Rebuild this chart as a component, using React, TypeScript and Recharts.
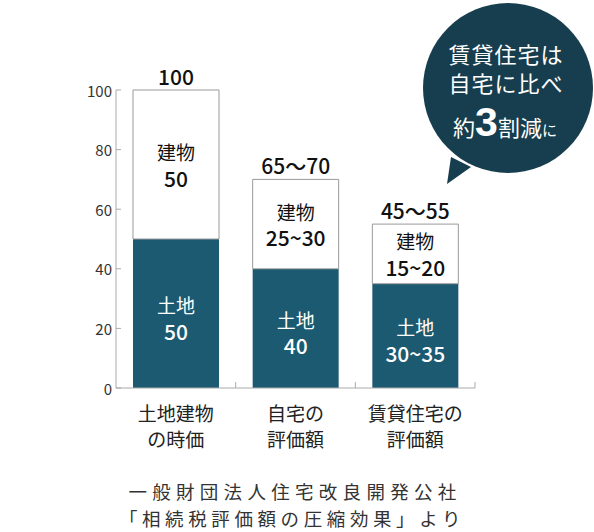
import React from 'react';
import { BarChart, Bar, XAxis, YAxis, LabelList } from 'recharts';

const categories = ['土地建物の時価', '自宅の評価額', '賃貸住宅の評価額'];
const categoryLine1 = ['土地建物', '自宅の', '賃貸住宅の'];
const categoryLine2 = ['の時価', '評価額', '評価額'];
const landValues = [50, 40, 35];
const buildingValues = [50, 30, 20];
const landLabels = ['50', '40', '30~35'];
const buildingLabels = ['50', '25~30', '15~20'];
const totalLabels = ['100', '65～70', '45～55'];
const yTicks = [0, 20, 40, 60, 80, 100];
const landName = '土地';
const buildingName = '建物';
const calloutLines = ['賃貸住宅は', '自宅に比べ'];
const sourceLines = ['一般財団法人住宅改良開発公社', '「相続税評価額の圧縮効果」より'];

const data = categories.map((c, i) => ({
  name: c,
  land: landValues[i],
  building: buildingValues[i],
}));

const FONT = '"Noto Sans CJK JP", "Noto Sans", sans-serif';
const TEAL = '#1b5a70';
const BUBBLE = '#173e4e';
const AXIS = '#aaaaaa';

const XTick = (props: any) => {
  const { x, y, payload, index, width, visibleTicksCount } = props;
  const half =
    payload && typeof payload.offset === 'number' && payload.offset > 0
      ? payload.offset
      : width / (visibleTicksCount || 3) / 2;
  const i = payload?.index ?? index;
  return (
    <g>
      <line x1={x + half} x2={x + half} y1={y} y2={y - 6} stroke={AXIS} strokeWidth={1} />
      <text x={x} y={y + 24} textAnchor="middle" dominantBaseline="central" fontFamily={FONT} fontSize={19} fill="#222">
        {categoryLine1[i]}
      </text>
      <text x={x} y={y + 50} textAnchor="middle" dominantBaseline="central" fontFamily={FONT} fontSize={19} fill="#222">
        {categoryLine2[i]}
      </text>
    </g>
  );
};

const YTick = (props: any) => {
  const { x, y, payload } = props;
  return (
    <g>
      <line x1={x} x2={x + 5} y1={y} y2={y} stroke={AXIS} strokeWidth={1} />
      <text x={x - 4} y={y} textAnchor="end" dominantBaseline="central" fontFamily={FONT} fontSize={15} fill="#333">
        {payload.value}
      </text>
    </g>
  );
};

const LandLabel = (props: any) => {
  const { x, y, width, height, index } = props;
  const cx = Number(x) + Number(width) / 2;
  const cy = Number(y) + Number(height) / 2;
  return (
    <g fontFamily={FONT} fill="#fff" textAnchor="middle">
      <text x={cx} y={cy - 9} dominantBaseline="central" fontSize={19} fill="#fff">{landName}</text>
      <text x={cx} y={cy + 17} dominantBaseline="central" fontSize={21} fontWeight={500} fill="#fff">{landLabels[index]}</text>
    </g>
  );
};

const BuildingLabel = (props: any) => {
  const { x, y, width, height, index } = props;
  const cx = Number(x) + Number(width) / 2;
  const cy = Number(y) + Number(height) / 2;
  return (
    <g fontFamily={FONT} textAnchor="middle">
      <text x={cx} y={cy - 13} dominantBaseline="central" fontSize={19} fill="#111">{buildingName}</text>
      <text x={cx} y={cy + 13} dominantBaseline="central" fontSize={21} fontWeight={500} fill="#111">{buildingLabels[index]}</text>
      <text x={cx} y={Number(y) - 14} dominantBaseline="central" fontSize={21} fontWeight={500} fill="#111">{totalLabels[index]}</text>
    </g>
  );
};

export default function App() {
  return (
    <div style={{ position: 'absolute', left: 0, top: 0, width: 594, height: 532, background: '#fff' }}>
      <BarChart
        width={594}
        height={532}
        data={data}
        margin={{ top: 90, right: 119, bottom: 114, left: 0 }}
        barSize={86}
      >
        <XAxis
          dataKey="name"
          height={30}
          axisLine={{ stroke: AXIS }}
          tickLine={false}
          tickSize={0}
          tickMargin={0}
          tick={<XTick />}
          interval={0}
        />
        <YAxis
          width={116}
          domain={[0, 100]}
          ticks={yTicks}
          axisLine={{ stroke: AXIS }}
          tickLine={false}
          tickSize={0}
          tickMargin={0}
          tick={<YTick />}
          interval={0}
        />
        <Bar dataKey="land" stackId="a" fill={TEAL} isAnimationActive={false}>
          <LabelList dataKey="land" content={<LandLabel />} />
        </Bar>
        <Bar dataKey="building" stackId="a" fill="#fff" stroke="#999" strokeWidth={1} isAnimationActive={false}>
          <LabelList dataKey="building" content={<BuildingLabel />} />
        </Bar>
      </BarChart>
      <svg
        width={594}
        height={532}
        style={{ position: 'absolute', left: 0, top: 0, pointerEvents: 'none' }}
      >
        <path d="M451,157 L447,184 L471,167 Z" fill={BUBBLE} />
        <circle cx={508} cy={88} r={85} fill={BUBBLE} />
        <g fontFamily={FONT} fill="#fff" textAnchor="middle">
          <text x={506} y={53} dominantBaseline="central" fontSize={22} letterSpacing={1}>{calloutLines[0]}</text>
          <text x={506} y={82} dominantBaseline="central" fontSize={22} letterSpacing={1}>{calloutLines[1]}</text>
          <text x={505} y={136}>
            <tspan fontSize={22}>約</tspan>
            <tspan fontSize={41} fontWeight={700} fontFamily='"Liberation Sans", Arial, sans-serif'>3</tspan>
            <tspan fontSize={22}>割減</tspan>
            <tspan fontSize={15}>に</tspan>
          </text>
        </g>
        <g fontFamily={FONT} fill="#333" textAnchor="middle">
          <text x={295} y={491} dominantBaseline="central" fontSize={18.5} letterSpacing={5.3}>{sourceLines[0]}</text>
          <text x={292} y={518} dominantBaseline="central" fontSize={18.5} letterSpacing={4.6}>{sourceLines[1]}</text>
        </g>
      </svg>
    </div>
  );
}
